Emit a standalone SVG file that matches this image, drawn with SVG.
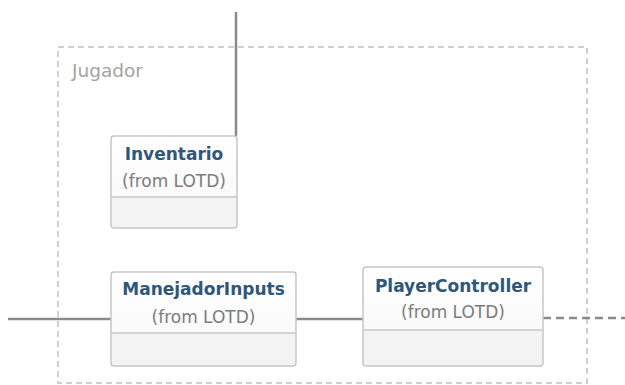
<svg xmlns="http://www.w3.org/2000/svg" width="625" height="385" viewBox="0 0 625 385">
  <style>
    .pkg { fill: none; stroke: #cfcfcf; stroke-width: 2; stroke-dasharray: 6 4; }
    .pkg-label { font-family: "DejaVu Sans", Verdana, sans-serif; font-size: 18.5px; fill: #a3a3a3; }
    .box { fill: url(#boxFill); stroke: #c6c6c6; stroke-width: 1.5; }
    .comp { fill: #f3f3f3; stroke: none; }
    .divider { stroke: #c6c6c6; stroke-width: 1.5; }
    .title { font-family: "DejaVu Sans", Verdana, sans-serif; font-weight: bold; font-size: 17px; fill: #2f5779; text-anchor: middle; }
    .sub { font-family: "DejaVu Sans", Verdana, sans-serif; font-size: 17px; fill: #7c7c7c; text-anchor: middle; }
    .link { fill: none; stroke: #8a8a8a; stroke-width: 2.5; }
    .dep { stroke-dasharray: 8 5; }
  </style>
  <defs>
    <linearGradient id="boxFill" x1="0" y1="0" x2="0" y2="1">
      <stop offset="0" stop-color="#ffffff"/>
      <stop offset="1" stop-color="#f7f7f7"/>
    </linearGradient>
  </defs>

  <rect x="0" y="0" width="625" height="385" fill="#ffffff"/>

  <!-- package frame -->
  <g id="jugador">
    <rect class="pkg" x="58" y="47" width="529" height="336"/>
    <text class="pkg-label" x="72" y="77">Jugador</text>
  </g>

  <!-- connectors -->
  <g id="connectors">
    <path class="link" d="M236 12 V136"/>
    <path class="link" d="M8 319 H111"/>
    <path class="link" d="M296 319 H363"/>
    <path class="link dep" d="M543 318 H625"/>
  </g>

  <!-- classes -->
  <g id="inventario">
    <rect class="box" x="111" y="136" width="126" height="92" rx="3"/>
    <rect class="comp" x="112" y="198" width="124" height="29" rx="2"/>
    <line class="divider" x1="111" y1="197" x2="237" y2="197"/>
    <text class="title" x="174" y="160">Inventario</text>
    <text class="sub" x="174" y="187">(from LOTD)</text>
  </g>

  <g id="manejadorInputs">
    <rect class="box" x="111" y="272" width="185" height="94" rx="3"/>
    <rect class="comp" x="112" y="334" width="183" height="31" rx="2"/>
    <line class="divider" x1="111" y1="333" x2="296" y2="333"/>
    <text class="title" x="203.5" y="295">ManejadorInputs</text>
    <text class="sub" x="203.5" y="323">(from LOTD)</text>
  </g>

  <g id="playerController">
    <rect class="box" x="363" y="267" width="180" height="99" rx="3"/>
    <rect class="comp" x="364" y="331" width="178" height="34" rx="2"/>
    <line class="divider" x1="363" y1="330" x2="543" y2="330"/>
    <text class="title" x="453" y="292">PlayerController</text>
    <text class="sub" x="453" y="318">(from LOTD)</text>
  </g>
</svg>
